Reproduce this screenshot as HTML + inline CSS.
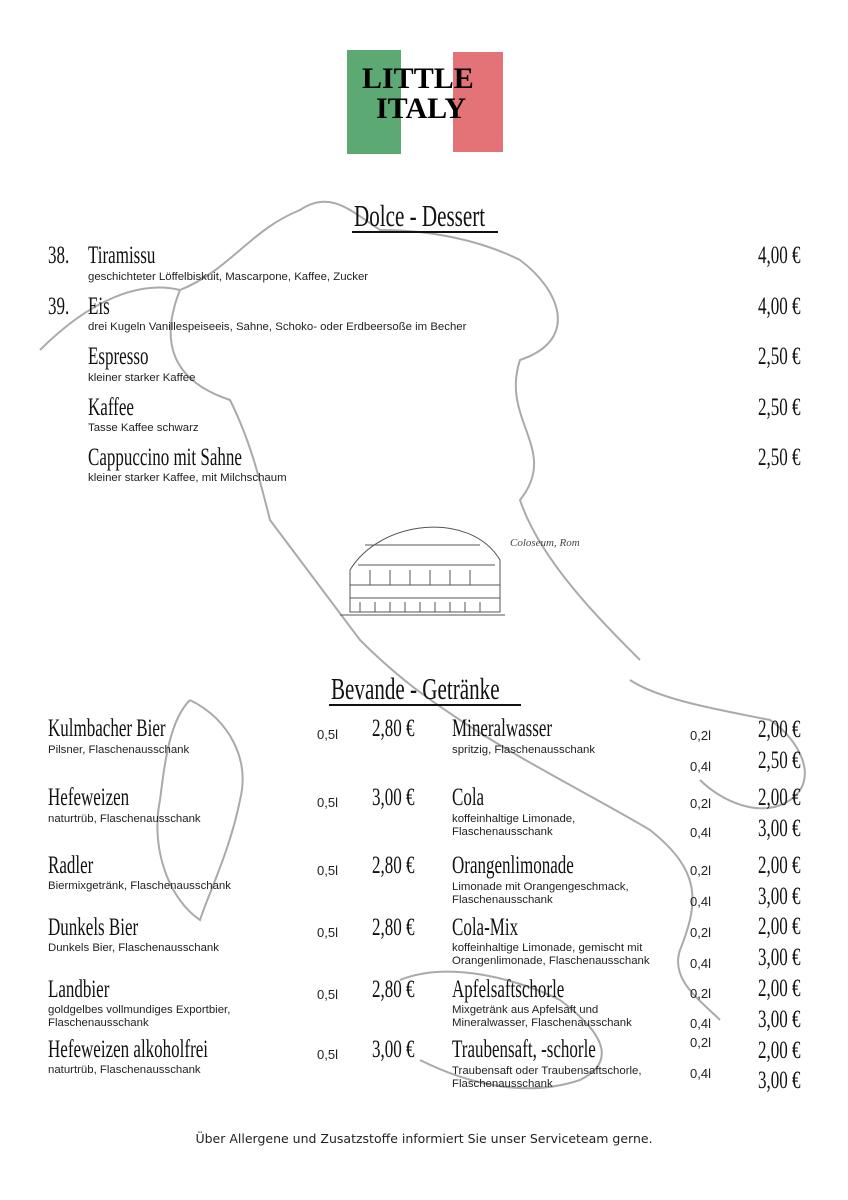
<!DOCTYPE html>
<html><head><meta charset="utf-8"><style>
body{margin:0;background:#fff}
#p{position:relative;width:848px;height:1200px;overflow:hidden;background:#fff;font-family:"Liberation Sans",sans-serif;color:#111}
.a{position:absolute;white-space:nowrap;line-height:1}
.d{font-family:"Liberation Serif",serif;font-size:25px;transform:scaleX(.68);transform-origin:0 0}
.r{transform-origin:100% 0;text-align:right}
.s{font-size:11.4px;line-height:13px;color:#222}
.v{font-size:13px;color:#222}
</style></head><body><div id="p">
<svg class="a" style="left:0;top:0" width="848" height="1200">
<g fill="none" stroke="#aaa" stroke-width="2">
<path d="M40 350 C90 300 140 280 180 290 C230 270 250 230 300 210 C330 190 350 210 380 230 C430 230 480 240 520 260 C560 290 580 340 520 360 C500 420 560 450 520 500 C540 560 600 620 640 660"/>
<path d="M180 290 C160 340 170 380 230 400 C250 440 260 480 270 520 C300 560 330 600 360 640 C400 680 430 700 460 720 C520 760 600 800 650 830 C700 870 700 900 680 950 C670 980 700 1000 720 1020"/>
<path d="M630 680 C660 700 720 710 770 720 C800 740 820 780 790 800 C760 820 720 800 700 780"/>
<path d="M190 700 C230 720 250 760 240 800 C230 850 210 890 200 920 C170 900 150 850 160 800 C165 760 170 720 190 700"/>
<path d="M400 980 C450 960 520 980 560 1000 C600 1030 620 1060 580 1080 C520 1100 460 1080 420 1060"/>
</g>
<g transform="translate(345,48)">
<rect x="2" y="2" width="54" height="104" fill="#3f9a5a" opacity=".85"/>
<rect x="108" y="4" width="50" height="100" fill="#de5a5e" opacity=".85"/>
</g>
<g fill="none" stroke="#555" stroke-width="1">
<path d="M350 612 L350 570 C380 520 470 510 500 560 L500 612 Z"/>
<path d="M350 585 L500 585 M350 598 L500 598 M358 565 L495 565 M365 545 L480 545"/>
<path d="M360 612 v-10 M375 612 v-10 M390 612 v-10 M405 612 v-10 M420 612 v-10 M435 612 v-10 M450 612 v-10 M465 612 v-10 M480 612 v-10"/>
<path d="M370 585 v-15 M390 585 v-15 M410 585 v-15 M430 585 v-15 M450 585 v-15 M470 585 v-15"/>
<path d="M340 615 L505 615"/>
</g>
</svg>
<div class="a" style="left:362px;top:64px;font-family:'Liberation Serif',serif;font-weight:bold;font-size:30px;color:#000;letter-spacing:0px">LITTLE</div>
<div class="a" style="left:376px;top:94px;font-family:'Liberation Serif',serif;font-weight:bold;font-size:30px;color:#000">ITALY</div>
<div class="a" style="left:510px;top:538px;font-family:'Liberation Serif',serif;font-style:italic;font-size:11px;color:#444">Coloseum, Rom</div>

<div class="a d" style="left:354px;top:200px;font-size:31px">Dolce - Dessert</div>
<div class="a" style="left:352px;top:231px;width:146px;height:2px;background:#111"></div>

<div class="a d" style="left:48px;top:243px">38.</div><div class="a d" style="left:88px;top:243px">Tiramissu</div>
<div class="a s" style="left:88px;top:271px">geschichteter Löffelbiskuit, Mascarpone, Kaffee, Zucker</div>
<div class="a d" style="left:48px;top:294px">39.</div><div class="a d" style="left:88px;top:294px">Eis</div>
<div class="a s" style="left:88px;top:321px">drei Kugeln Vanillespeiseeis, Sahne, Schoko- oder Erdbeersoße im Becher</div>
<div class="a d" style="left:88px;top:344px">Espresso</div>
<div class="a s" style="left:88px;top:372px">kleiner starker Kaffee</div>
<div class="a d" style="left:88px;top:395px">Kaffee</div>
<div class="a s" style="left:88px;top:422px">Tasse Kaffee schwarz</div>
<div class="a d" style="left:88px;top:445px">Cappuccino mit Sahne</div>
<div class="a s" style="left:88px;top:472px">kleiner starker Kaffee, mit Milchschaum</div>
<div class="a d r" style="right:48px;top:243px">4,00 €</div>
<div class="a d r" style="right:48px;top:294px">4,00 €</div>
<div class="a d r" style="right:48px;top:344px">2,50 €</div>
<div class="a d r" style="right:48px;top:395px">2,50 €</div>
<div class="a d r" style="right:48px;top:445px">2,50 €</div>

<div class="a d" style="left:331px;top:673px;font-size:31px">Bevande - Getränke</div>
<div class="a" style="left:329px;top:704px;width:192px;height:2px;background:#111"></div>

<div class="a d" style="left:48px;top:716px">Kulmbacher Bier</div>
<div class="a s" style="left:48px;top:744px">Pilsner, Flaschenausschank</div>
<div class="a d" style="left:48px;top:785px">Hefeweizen</div>
<div class="a s" style="left:48px;top:813px">naturtrüb, Flaschenausschank</div>
<div class="a d" style="left:48px;top:853px">Radler</div>
<div class="a s" style="left:48px;top:880px">Biermixgetränk, Flaschenausschank</div>
<div class="a d" style="left:48px;top:915px">Dunkels Bier</div>
<div class="a s" style="left:48px;top:942px">Dunkels Bier, Flaschenausschank</div>
<div class="a d" style="left:48px;top:977px">Landbier</div>
<div class="a s" style="left:48px;top:1004px">goldgelbes vollmundiges Exportbier,<br>Flaschenausschank</div>
<div class="a d" style="left:48px;top:1037px">Hefeweizen alkoholfrei</div>
<div class="a s" style="left:48px;top:1064px">naturtrüb, Flaschenausschank</div>
<div class="a v" style="left:317px;top:728px">0,5l</div><div class="a d" style="left:372px;top:716px">2,80 €</div>
<div class="a v" style="left:317px;top:796px">0,5l</div><div class="a d" style="left:372px;top:785px">3,00 €</div>
<div class="a v" style="left:317px;top:864px">0,5l</div><div class="a d" style="left:372px;top:853px">2,80 €</div>
<div class="a v" style="left:317px;top:926px">0,5l</div><div class="a d" style="left:372px;top:915px">2,80 €</div>
<div class="a v" style="left:317px;top:988px">0,5l</div><div class="a d" style="left:372px;top:977px">2,80 €</div>
<div class="a v" style="left:317px;top:1048px">0,5l</div><div class="a d" style="left:372px;top:1037px">3,00 €</div>

<div class="a d" style="left:452px;top:716px">Mineralwasser</div>
<div class="a s" style="left:452px;top:744px">spritzig, Flaschenausschank</div>
<div class="a d" style="left:452px;top:785px">Cola</div>
<div class="a s" style="left:452px;top:813px">koffeinhaltige Limonade,<br>Flaschenausschank</div>
<div class="a d" style="left:452px;top:853px">Orangenlimonade</div>
<div class="a s" style="left:452px;top:881px">Limonade mit Orangengeschmack,<br>Flaschenausschank</div>
<div class="a d" style="left:452px;top:915px">Cola-Mix</div>
<div class="a s" style="left:452px;top:942px">koffeinhaltige Limonade, gemischt mit<br>Orangenlimonade, Flaschenausschank</div>
<div class="a d" style="left:452px;top:977px">Apfelsaftschorle</div>
<div class="a s" style="left:452px;top:1004px">Mixgetränk aus Apfelsaft und<br>Mineralwasser, Flaschenausschank</div>
<div class="a d" style="left:452px;top:1037px">Traubensaft, -schorle</div>
<div class="a s" style="left:452px;top:1065px">Traubensaft oder Traubensaftschorle,<br>Flaschenausschank</div>

<div class="a v" style="left:690px;top:729px">0,2l</div><div class="a d r" style="right:48px;top:717px">2,00 €</div>
<div class="a v" style="left:690px;top:760px">0,4l</div><div class="a d r" style="right:48px;top:748px">2,50 €</div>
<div class="a v" style="left:690px;top:797px">0,2l</div><div class="a d r" style="right:48px;top:785px">2,00 €</div>
<div class="a v" style="left:690px;top:826px">0,4l</div><div class="a d r" style="right:48px;top:816px">3,00 €</div>
<div class="a v" style="left:690px;top:864px">0,2l</div><div class="a d r" style="right:48px;top:853px">2,00 €</div>
<div class="a v" style="left:690px;top:895px">0,4l</div><div class="a d r" style="right:48px;top:884px">3,00 €</div>
<div class="a v" style="left:690px;top:926px">0,2l</div><div class="a d r" style="right:48px;top:914px">2,00 €</div>
<div class="a v" style="left:690px;top:957px">0,4l</div><div class="a d r" style="right:48px;top:945px">3,00 €</div>
<div class="a v" style="left:690px;top:987px">0,2l</div><div class="a d r" style="right:48px;top:976px">2,00 €</div>
<div class="a v" style="left:690px;top:1017px">0,4l</div><div class="a d r" style="right:48px;top:1007px">3,00 €</div>
<div class="a v" style="left:690px;top:1036px">0,2l</div><div class="a d r" style="right:48px;top:1038px">2,00 €</div>
<div class="a v" style="left:690px;top:1067px">0,4l</div><div class="a d r" style="right:48px;top:1068px">3,00 €</div>

<div class="a" style="left:0;width:848px;text-align:center;top:1133px;font-family:'DejaVu Sans',sans-serif;font-size:12.5px;color:#222">Über Allergene und Zusatzstoffe informiert Sie unser Serviceteam gerne.</div>
</div></body></html>
